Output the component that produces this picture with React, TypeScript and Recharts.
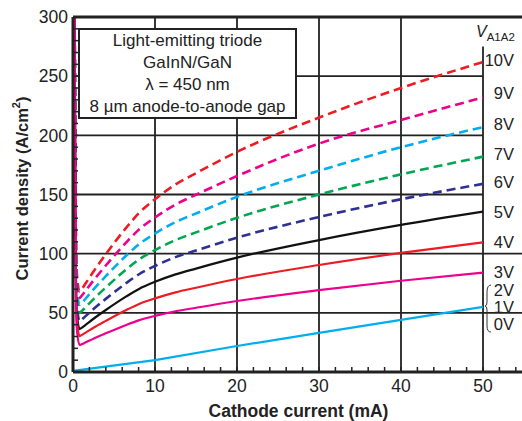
import React from "react";
import {
  LineChart,
  Line,
  XAxis,
  YAxis,
  ReferenceLine,
  ReferenceDot,
} from "recharts";

const FONT = '"Liberation Sans", Arial, Helvetica, sans-serif';

// cathode current (mA)
const current = [0, 0.2, 0.3, 0.45, 0.8, 1, 1.5, 2.5, 4, 6.5, 8, 10, 12.5, 15, 20, 30, 40, 50];

// current density (A/cm2) per anode-to-anode voltage
const v10 = [null, 300, 160, 85, 68, 69.5, 74.5, 85, 99.5, 122, 134, 146, 158.5, 168, 186, 215, 240, 262];
const v9 = [null, 300, 155, 78, 62.5, 63.9, 68.3, 77.4, 90, 109.6, 120.1, 130.6, 141.5, 149.8, 165.6, 193, 213, 232];
const v8 = [null, 300, 150, 72, 56.6, 57.8, 61.7, 69.8, 81, 98.4, 107.7, 117, 126.7, 134, 148, 170, 190, 207];
const v7 = [null, 300, 145, 65, 50, 51.1, 54.5, 61.6, 71.4, 86.7, 94.9, 103, 111.5, 118, 130.3, 150, 167, 182];
const v6 = [null, 300, 140, 58, 43, 43.9, 47, 53.2, 61.8, 75.2, 82.4, 89.6, 97.1, 102.7, 113.5, 131, 146, 159];
const v5 = [null, 300, 130, 52, 36.3, 37.1, 39.7, 45, 52.4, 63.9, 70, 76.2, 82.5, 87.4, 96.6, 111.5, 124.3, 135.5];
const v4 = [null, 300, 125, 46, 30.4, 31, 33.1, 37.4, 43.2, 52.4, 57.3, 62.2, 67.3, 71.2, 78.6, 90.4, 100.6, 109.6];
const v3 = [null, 300, 120, 38, 22.8, 23.3, 24.9, 28.2, 32.7, 39.8, 43.6, 47.4, 51.3, 54.3, 60, 69.2, 77.1, 84];
const v0to2 = [1, null, null, null, null, null, null, null, null, null, null, 10, null, null, 22, 33, 44, 55];

// label positions on the right (value of the label's centre)
const voltLabels = ["10V", "9V", "8V", "7V", "6V", "5V", "4V", "3V", "2V", "1V", "0V"];
const voltLabelY = [263.6, 235.8, 209.6, 184.2, 160.6, 135.2, 109.9, 84.5, 69.3, 54.9, 40.6];

const xMajor = [0, 10, 20, 30, 40, 50];
const yMajor = [0, 50, 100, 150, 200, 250, 300];
const xMinor = Array.from({ length: 28 }, (_, i) => i * 2);
const yMinor = Array.from({ length: 31 }, (_, i) => i * 10);

const data = current.map((x, i) => ({
  x,
  v10: v10[i],
  v9: v9[i],
  v8: v8[i],
  v7: v7[i],
  v6: v6[i],
  v5: v5[i],
  v4: v4[i],
  v3: v3[i],
  v0: v0to2[i],
}));

const series = [
  { key: "v10", color: "#ed1c24", dash: "9 5" },
  { key: "v9", color: "#ec008c", dash: "9 5" },
  { key: "v8", color: "#00aeef", dash: "9 5" },
  { key: "v7", color: "#00a651", dash: "9 5" },
  { key: "v6", color: "#2e3192", dash: "9 5" },
  { key: "v5", color: "#111111", dash: undefined },
  { key: "v4", color: "#ed1c24", dash: undefined },
  { key: "v3", color: "#ec008c", dash: undefined },
];

const GRID = "#222";

const YTitle = (props: any) => {
  const vb = props.viewBox || { x: 0, y: 0, width: 73, height: 355 };
  const cx = vb.x + 22;
  const cy = vb.y + vb.height / 2 - 6;
  return (
    <text
      x={cx}
      y={cy}
      transform={`rotate(-90 ${cx} ${cy})`}
      textAnchor="middle"
      dominantBaseline="central"
      fontSize={16.5}
      fontWeight="bold"
      fill="#222"
      fontFamily={FONT}
    >
      Current density (A/cm
      <tspan fontSize={11} dy={-6}>2</tspan>
      <tspan dy={6}>)</tspan>
    </text>
  );
};

const App = () => {
  return (
    <div
      style={{
        position: "absolute",
        left: 0,
        top: 0,
        width: 522,
        height: 421,
        overflow: "hidden",
        background: "#fff",
        fontFamily: FONT,
      }}
    >
      <LineChart
        width={540}
        height={421}
        data={data}
        margin={{ top: 12, right: 6, bottom: 0, left: 0 }}
        style={{ fontFamily: FONT }}
      >
        <XAxis
          dataKey="x"
          type="number"
          domain={[0, 55]}
          ticks={xMinor}
          interval={0}
          allowDataOverflow
          tickFormatter={(v: number) => (xMajor.includes(v) ? String(v) : "")}
          tickSize={-5}
          tickMargin={13}
          height={49}
          axisLine={{ stroke: GRID, strokeWidth: 3 }}
          tickLine={{ stroke: GRID, strokeWidth: 1.5 }}
          tick={{ fill: "#222", fontSize: 17.5 }}
          label={{
            value: "Cathode current (mA)",
            position: "insideBottom",
            offset: 4,
            fill: "#222",
            fontSize: 17.5,
            fontWeight: "bold",
          }}
        />
        <XAxis
          xAxisId="top"
          orientation="top"
          dataKey="x"
          type="number"
          domain={[0, 55]}
          ticks={xMinor}
          interval={0}
          allowDataOverflow
          tick={false}
          tickSize={-5}
          height={5}
          axisLine={{ stroke: GRID, strokeWidth: 3 }}
          tickLine={{ stroke: GRID, strokeWidth: 1.5 }}
        />
        <YAxis
          type="number"
          domain={[0, 300]}
          ticks={yMinor}
          interval={0}
          allowDataOverflow
          tickFormatter={(v: number) => (yMajor.includes(v) ? String(v) : "")}
          tickSize={-5}
          tickMargin={10}
          width={73}
          axisLine={{ stroke: GRID, strokeWidth: 3 }}
          tickLine={{ stroke: GRID, strokeWidth: 1.5 }}
          tick={{ fill: "#222", fontSize: 17.5 }}
          label={<YTitle />}
        />
        <YAxis
          yAxisId="right"
          orientation="right"
          type="number"
          domain={[0, 300]}
          ticks={yMinor}
          interval={0}
          tick={false}
          tickSize={-5}
          width={10}
          axisLine={{ stroke: GRID, strokeWidth: 3 }}
          tickLine={{ stroke: GRID, strokeWidth: 1.5 }}
        />

        {xMajor.slice(1, 5).map((v) => (
          <ReferenceLine key={"gx" + v} x={v} stroke={GRID} strokeWidth={1.8} />
        ))}
        <ReferenceLine
          segment={[
            { x: 50, y: 0 },
            { x: 50, y: 275 },
          ]}
          stroke={GRID}
          strokeWidth={1.8}
        />
        {[50, 100].map((v) => (
          <ReferenceLine key={"gy" + v} y={v} stroke={GRID} strokeWidth={1.8} />
        ))}
        {[150, 200, 250].map((v) => (
          <ReferenceLine
            key={"gs" + v}
            segment={[
              { x: 0, y: v },
              { x: 50, y: v },
            ]}
            stroke={GRID}
            strokeWidth={1.8}
          />
        ))}

        <Line
          dataKey="v0"
          type="linear"
          stroke="#00aeef"
          strokeWidth={2.2}
          dot={false}
          connectNulls
          isAnimationActive={false}
        />
        {series.map((s) => (
          <Line
            key={s.key}
            dataKey={s.key}
            type="monotone"
            stroke={s.color}
            strokeWidth={s.dash ? 2.6 : 2.2}
            strokeDasharray={s.dash}
            dot={false}
            isAnimationActive={false}
          />
        ))}

        {voltLabels.map((t, i) => (
          <ReferenceDot
            key={t}
            x={50}
            y={voltLabelY[i]}
            r={0}
            ifOverflow="visible"
            shape={(p: any) => (
              <g>
                <text
                  x={p.cx + 31}
                  y={p.cy}
                  textAnchor="end"
                  dominantBaseline="central"
                  fontSize={16.5}
                  fill="#222"
                  fontFamily={FONT}
                >
                  {t}
                </text>
                {t === "1V" && (
                  <path
                    d={`M${p.cx + 8},${p.cy - 22} Q${p.cx + 4},${p.cy - 22} ${p.cx + 4},${p.cy - 15} L${p.cx + 4},${p.cy - 5} Q${p.cx + 4},${p.cy - 1} ${p.cx + 2},${p.cy - 1} Q${p.cx + 4},${p.cy - 1} ${p.cx + 4},${p.cy + 3} L${p.cx + 4},${p.cy + 19} Q${p.cx + 4},${p.cy + 25} ${p.cx + 8},${p.cy + 25}`}
                    fill="none"
                    stroke="#333"
                    strokeWidth={1}
                  />
                )}
              </g>
            )}
          />
        ))}
        <ReferenceDot
          x={50}
          y={300}
          r={0}
          ifOverflow="visible"
          shape={(p: any) => (
            <text x={p.cx - 7} y={p.cy + 20} fontSize={16} fill="#222" fontFamily={FONT}>
              <tspan fontStyle="italic">V</tspan>
              <tspan fontSize={11.5} dy={4}>A1A2</tspan>
            </text>
          )}
        />
      </LineChart>

      <div
        style={{
          position: "absolute",
          left: 78,
          top: 28,
          width: 215,
          height: 87,
          border: "2px solid #222",
          background: "#fff",
          display: "flex",
          flexDirection: "column",
          justifyContent: "center",
          alignItems: "center",
          fontSize: 17,
          lineHeight: "22px",
          color: "#222",
          whiteSpace: "nowrap",
        }}
      >
        <div>Light-emitting triode</div>
        <div>GaInN/GaN</div>
        <div>λ = 450 nm</div>
        <div>8 µm anode-to-anode gap</div>
      </div>
    </div>
  );
};

export default App;
